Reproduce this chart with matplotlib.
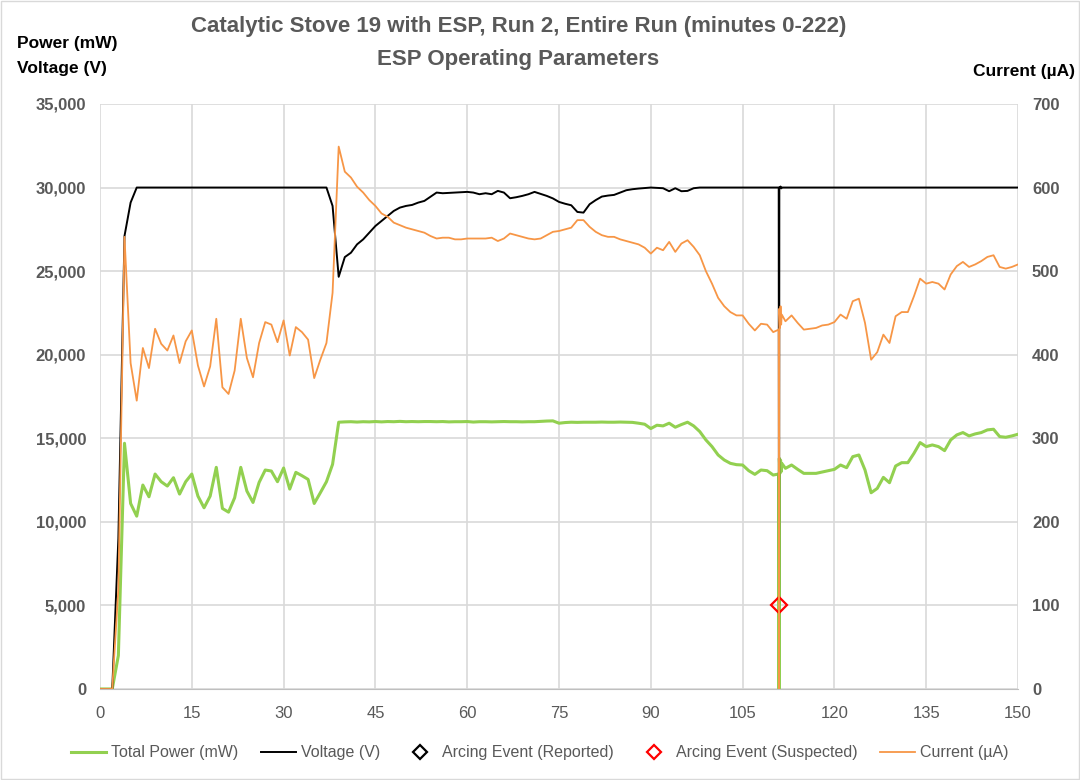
import matplotlib
matplotlib.use('Agg')
import matplotlib.pyplot as plt
from matplotlib.lines import Line2D
from matplotlib.patches import Rectangle
from matplotlib.ticker import FuncFormatter, MultipleLocator

plt.rcParams['font.family'] = ['Liberation Sans Narrow', 'Liberation Sans', 'DejaVu Sans']

# minutes into the run (extra points around the arc near minute 111)
minutes = list(range(0, 111)) + [110.9, 110.95, 111.0, 111.1, 111.2, 111.3, 111.4] + list(range(112, 151))

voltage = [0, 0, 0, 9000, 27100, 29100] + [30000] * 32 + [
    28900, 24660, 25840, 26100, 26600, 26900, 27300, 27700, 28000, 28300,
    28600, 28800, 28900, 28960, 29100, 29200, 29450, 29700, 29660, 29680,
    29700, 29720, 29740, 29700, 29600, 29660, 29600, 29800, 29700, 29360,
    29420, 29500, 29600, 29740, 29620, 29500, 29350, 29140, 29030, 28940,
    28540, 28500, 29000, 29250, 29460, 29520, 29560, 29700, 29840, 29900,
    29940, 29970, 30000, 29980, 29960, 29780, 29960, 29780, 29800, 29960,
] + [30000] * 13 + [30000, 0, 30000, 30000, 30060, 29950, 30000] + [30000] * 39

current = [
    0, 0, 0, 120, 541, 390, 345, 408, 384, 431, 413, 405, 423, 390, 416,
    429, 387, 362, 386, 443, 361, 353, 381, 443, 396, 373, 414, 439, 436, 415,
    441, 399, 433, 427, 418, 372, 394, 414, 474, 649, 619, 612, 601, 594, 585,
    578, 569, 565, 558, 555, 552, 550, 548, 546, 542, 539, 540, 540, 538, 538,
    539, 539, 539, 539, 540, 536, 539, 545, 543, 541, 539, 538, 539, 543, 547,
    548, 550, 552, 561, 561, 553, 547, 543, 541, 541, 538, 536, 534, 532, 528,
    521, 528, 525, 535, 523, 533, 537, 529, 519, 500, 485, 468, 458, 451, 447,
    447, 437, 429, 437, 436, 427,
    430, 0, 455, 432, 458, 436, 448,
    440, 447, 438, 430, 431, 432, 435, 436, 439, 448, 443, 464, 467, 438, 394,
    403, 424, 414, 446, 451, 451, 470, 491, 485, 487, 485, 478, 496, 506, 511,
    505, 508, 512, 517, 519, 505, 503, 505, 508,
]

power = [
    0, 0, 0, 2000, 14700, 11100, 10340, 12200, 11500, 12860, 12400, 12140, 12640, 11660, 12400,
    12860, 11540, 10840, 11540, 13260, 10800, 10580, 11440, 13260, 11840, 11160, 12360, 13100, 13040, 12400,
    13220, 11960, 12960, 12760, 12540, 11100, 11740, 12400, 13440, 15960, 15980, 15990, 15970, 15990, 15980,
    16000, 15980, 16000, 15990, 16010, 15990, 16000, 15990, 16000, 16000, 15990, 16000, 15980, 15990, 15990,
    16000, 15970, 15990, 15990, 15980, 15990, 16000, 15990, 15990, 15980, 15990, 15990, 16010, 16030, 16040,
    15900, 15940, 15960, 15950, 15960, 15960, 15960, 15970, 15960, 15960, 15970, 15960, 15950, 15900, 15840,
    15580, 15780, 15740, 15900, 15660, 15820, 15960, 15740, 15400, 14900, 14500, 14000, 13700, 13500, 13420,
    13400, 13060, 12840, 13100, 13060, 12800,
    12860, 0, 13800, 12900, 13700, 13000, 13500,
    13200, 13400, 13140, 12900, 12900, 12900, 12980, 13060, 13140, 13400, 13240, 13900, 14000, 13100, 11740,
    12000, 12660, 12340, 13340, 13540, 13540, 14100, 14740, 14500, 14600, 14500, 14260, 14900, 15200, 15340,
    15140, 15260, 15340, 15500, 15540, 15100, 15060, 15140, 15240,
]

# arcing events
reported_t, reported_y = [], []
suspected_t, suspected_y = [111.0], [5000]

GREEN = '#92d050'
ORANGE = '#f79646'
GRAY = '#595959'

fig = plt.figure(figsize=(10.8, 7.8), dpi=100)
fig.patches.append(Rectangle((0.001, 0.001), 0.998, 0.998, transform=fig.transFigure,
                             fill=False, edgecolor='#d9d9d9', lw=1))
ax = fig.add_axes([0.0926, 0.1167, 0.85, 0.75])
ax2 = ax.twinx()

ax.plot(minutes, power, color=GREEN, lw=2.2)
ax.plot(minutes, voltage, color='black', lw=1.4)
ax.plot(reported_t, reported_y, linestyle='none', marker='D', markersize=8,
        markerfacecolor='none', markeredgecolor='black', markeredgewidth=1.6, zorder=5)
ax.plot(suspected_t, suspected_y, linestyle='none', marker='D', markersize=8,
        markerfacecolor='none', markeredgecolor='red', markeredgewidth=1.6, zorder=5)
ax2.plot(minutes, current, color=ORANGE, lw=1.3)

ax.set_xlim(0, 150)
ax.set_ylim(0, 35000)
ax2.set_ylim(0, 700)
ax.xaxis.set_major_locator(MultipleLocator(15))
ax.yaxis.set_major_locator(MultipleLocator(5000))
ax2.yaxis.set_major_locator(MultipleLocator(100))
ax.yaxis.set_major_formatter(FuncFormatter(lambda v, p: f'{int(v):,}'))

ax.grid(True, color='#d9d9d9', lw=1.2)
ax.set_axisbelow(True)
for a in (ax, ax2):
    for s in a.spines.values():
        s.set_visible(False)
    a.tick_params(length=0)
ax.spines['bottom'].set_visible(True)
ax.spines['bottom'].set_color('#bfbfbf')

ax.tick_params(axis='x', labelsize=12, labelcolor=GRAY, pad=12)
ax.tick_params(axis='y', labelsize=12, labelcolor=GRAY, pad=10)
ax2.tick_params(axis='y', labelsize=12, labelcolor=GRAY, pad=10)
for lab in ax.get_yticklabels() + ax2.get_yticklabels():
    lab.set_fontweight('bold')

fig.text(0.48, 0.98, 'Catalytic Stove 19 with ESP, Run 2, Entire Run (minutes 0-222)\nESP Operating Parameters',
         ha='center', va='top', fontsize=16, fontweight='bold', color=GRAY, linespacing=1.75)
fig.text(0.016, 0.954, 'Power (mW)\nVoltage (V)', ha='left', va='top', fontsize=12.5,
         fontweight='bold', color='black', linespacing=1.85)
fig.text(0.995, 0.918, 'Current (µA)', ha='right', va='top', fontsize=12.5,
         fontweight='bold', color='black')

handles = [
    Line2D([], [], color=GREEN, lw=2.2),
    Line2D([], [], color='black', lw=1.4),
    Line2D([], [], linestyle='none', marker='D', markersize=7, markerfacecolor='none',
           markeredgecolor='black', markeredgewidth=1.6),
    Line2D([], [], linestyle='none', marker='D', markersize=7, markerfacecolor='none',
           markeredgecolor='red', markeredgewidth=1.6),
    Line2D([], [], color=ORANGE, lw=1.3),
]
labels = ['Total Power (mW)', 'Voltage (V)', 'Arcing Event (Reported)',
          'Arcing Event (Suspected)', 'Current (µA)']
leg = fig.legend(handles, labels, loc='center', bbox_to_anchor=(0.5, 0.035), ncol=5,
                 frameon=False, fontsize=11.5, handlelength=2.2, handletextpad=0.3,
                 columnspacing=1.4)
for t in leg.get_texts():
    t.set_color(GRAY)

fig.savefig('out.png', dpi=100)
